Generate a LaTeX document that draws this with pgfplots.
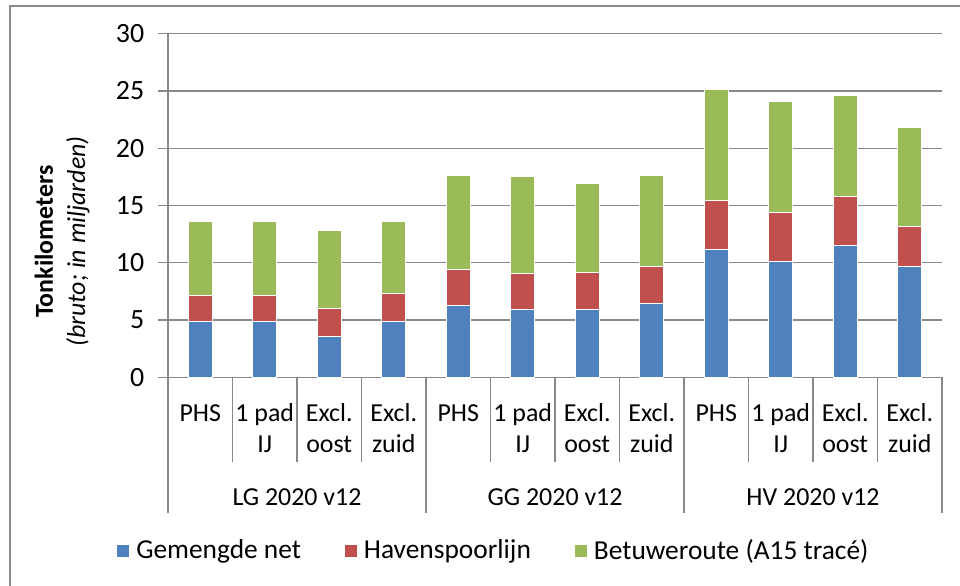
\documentclass[border=0pt]{standalone}
\usepackage{pgfplots}
\pgfplotsset{compat=1.18}
\usepackage{fontspec}
\setmainfont{Carlito}
\definecolor{gemengd}{HTML}{4F81BD}
\definecolor{haven}{HTML}{C0504D}
\definecolor{betuwe}{HTML}{9BBB59}
\definecolor{gridc}{HTML}{898989}

% segment heights per bar (miljard tonkm)
\usepackage{pgfplotstable}
\pgfplotstableread{
x  gem    hav   bet
1  4.9    2.2   6.5
2  4.9    2.2   6.5
3  3.6    2.45  6.8
4  4.9    2.4   6.3
5  6.25   3.2   8.15
6  5.9    3.2   8.4
7  5.9    3.25  7.8
8  6.4    3.25  7.95
9  11.2   4.2   9.75
10 10.1   4.25  9.75
11 11.55  4.2   8.85
12 9.65   3.5   8.7
}\tonkm

\begin{document}
\fontsize{26}{31}\selectfont
\begin{tikzpicture}
\useasboundingbox (0bp,0bp) rectangle (960bp,586bp);
\draw[gridc, line width=1.5bp] (10bp,0bp) -- (10bp,580bp) -- (960bp,580bp);

% y axis title
\node[rotate=90, font=\fontsize{26}{31}\bfseries] at (44bp,344.5bp) {Tonkilometers};
\node[rotate=90, font=\fontsize{26}{31}\itshape] at (78bp,344.5bp) {(bruto; in miljarden)};

\begin{axis}[
  at={(168bp,208.7bp)}, anchor=south west,
  scale only axis, width=774bp, height=343.6bp,
  ybar stacked, bar width=0.37,
  xmin=0.5, xmax=12.5, ymin=0, ymax=30,
  ytick={0,5,...,30}, xtick=\empty,
  axis lines*=left,
  axis line style={gridc, line width=1.3bp},
  ymajorgrids, grid style={gridc, line width=1.3bp},
  tick align=outside, major tick length=10bp,
  ytick style={gridc, line width=1.3bp},
  yticklabel style={font=\fontsize{28}{32}\selectfont, xshift=-5bp},
  /pgf/number format/assume math mode=true,
  clip=false,
  legend columns=3,
  legend style={at={(0.421,-0.5055)}, anchor=center, draw=none,
    font=\fontsize{27.5}{32}\selectfont,
    /tikz/every odd column/.append style={column sep=5bp},
    /tikz/every even column/.append style={column sep=42bp}},
  legend image code/.code={\draw[#1,draw=none] (0bp,-6bp) rectangle (12bp,6bp);},
]
\addplot[fill=gemengd, draw=white, line width=1bp] table[x=x,y=gem] {\tonkm};
\addlegendentry{Gemengde net}
\addplot[fill=haven, draw=white, line width=1bp] table[x=x,y=hav] {\tonkm};
\addlegendentry{Havenspoorlijn}
\addplot[fill=betuwe, draw=white, line width=1bp] table[x=x,y=bet] {\tonkm};
\addlegendentry{Betuweroute (A15 tracé)}

% category separators
\pgfplotsinvokeforeach{1.5,2.5,3.5,5.5,6.5,7.5,9.5,10.5,11.5}{
  \draw[gridc, line width=1.3bp] (axis cs:#1,0) -- ([yshift=-84.4bp]axis cs:#1,0);
}
\pgfplotsinvokeforeach{0.5,4.5,8.5,12.5}{
  \draw[gridc, line width=1.3bp] (axis cs:#1,0) -- ([yshift=-136bp]axis cs:#1,0);
}

% category labels
\pgfplotsinvokeforeach{0,4,8}{
  \node[anchor=base] at ([yshift=-43.7bp]axis cs:{#1+1},0) {PHS};
  \node[anchor=base] at ([yshift=-43.7bp]axis cs:{#1+2},0) {1 pad};
  \node[anchor=base] at ([yshift=-75bp]axis cs:{#1+2},0) {IJ};
  \node[anchor=base] at ([yshift=-43.7bp]axis cs:{#1+3},0) {Excl.};
  \node[anchor=base] at ([yshift=-75bp]axis cs:{#1+3},0) {oost};
  \node[anchor=base] at ([yshift=-43.7bp]axis cs:{#1+4},0) {Excl.};
  \node[anchor=base] at ([yshift=-75bp]axis cs:{#1+4},0) {zuid};
}
\node[anchor=base] at ([yshift=-127.7bp]axis cs:2.5,0) {LG 2020 v12};
\node[anchor=base] at ([yshift=-127.7bp]axis cs:6.5,0) {GG 2020 v12};
\node[anchor=base] at ([yshift=-127.7bp]axis cs:10.5,0) {HV 2020 v12};
\end{axis}
\end{tikzpicture}
\end{document}
